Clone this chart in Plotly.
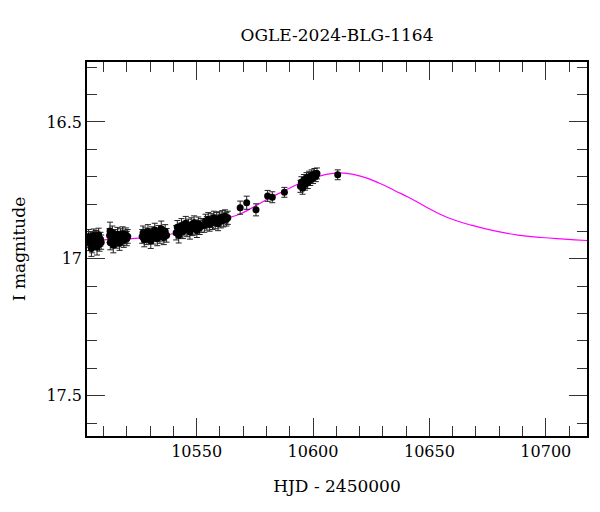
import plotly.graph_objects as go

# Observations: HJD-2450000, I magnitude, error
obs_t = [
    10503.3, 10503.6, 10504.2, 10504.5, 10505.1, 10505.4, 10505.8, 10506.3, 10506.6, 10507.2,
    10507.5, 10507.9, 10508.3, 10508.7, 10509.0, 10504.8, 10506.9,
    10512.6, 10512.9, 10513.3, 10513.8, 10514.2, 10514.6, 10515.1, 10515.5, 10516.0, 10516.4,
    10516.9, 10517.3, 10517.8, 10518.2, 10518.7, 10519.1, 10519.6, 10520.0, 10520.4, 10512.8,
    10526.6, 10527.0, 10527.5, 10528.0, 10528.6, 10529.1, 10529.7, 10530.3, 10530.8, 10531.4,
    10532.0, 10532.5, 10533.1, 10533.6, 10534.2, 10534.8, 10535.3, 10535.9, 10536.5, 10537.1,
    10541.2, 10541.7, 10542.3, 10542.9, 10543.5, 10544.1, 10544.7, 10545.3, 10545.9, 10546.5,
    10547.1, 10547.7, 10548.3, 10548.9, 10549.5, 10550.1, 10550.7, 10551.3, 10551.9,
    10553.3, 10553.8, 10554.4, 10555.0, 10555.6, 10556.2, 10556.8, 10557.4, 10558.0, 10558.6,
    10559.2, 10559.8, 10560.4, 10561.0, 10561.6, 10562.2, 10562.8, 10563.4,
    10568.7, 10571.5, 10575.5, 10580.5, 10582.5, 10587.7,
    10594.6, 10595.0, 10595.5, 10596.1, 10596.6, 10597.2, 10597.7, 10598.3, 10598.8, 10599.4,
    10600.0, 10600.6, 10601.2, 10601.7,
    10610.6,
]
obs_mag = [
    16.935, 16.918, 16.944, 16.926, 16.951, 16.930, 16.915, 16.940, 16.922, 16.958,
    16.933, 16.912, 16.946, 16.928, 16.939, 16.962, 16.920,
    16.915, 16.940, 16.925, 16.905, 16.950, 16.930, 16.918, 16.935, 16.910, 16.928,
    16.942, 16.915, 16.925, 16.908, 16.932, 16.920, 16.912, 16.926, 16.918, 16.898,
    16.918, 16.905, 16.930, 16.912, 16.922, 16.900, 16.915, 16.935, 16.908, 16.920,
    16.895, 16.912, 16.926, 16.903, 16.918, 16.890, 16.910, 16.922, 16.900, 16.914,
    16.905, 16.885, 16.915, 16.895, 16.878, 16.900, 16.888, 16.870, 16.893, 16.880,
    16.902, 16.875, 16.890, 16.868, 16.884, 16.896, 16.872, 16.886, 16.878,
    16.878, 16.862, 16.870, 16.855, 16.874, 16.860, 16.868, 16.850, 16.865, 16.856,
    16.872, 16.852, 16.862, 16.848, 16.858, 16.845, 16.855, 16.850,
    16.813, 16.795, 16.821, 16.770, 16.775, 16.757,
    16.735, 16.720, 16.742, 16.712, 16.728, 16.705, 16.722, 16.700, 16.712, 16.695,
    16.705, 16.690, 16.698, 16.688,
    16.693,
]
obs_err = [
    0.024, 0.025, 0.026, 0.024, 0.027, 0.025, 0.024, 0.026, 0.025, 0.028,
    0.025, 0.024, 0.026, 0.025, 0.026, 0.029, 0.024,
    0.026, 0.027, 0.025, 0.025, 0.028, 0.026, 0.025, 0.026, 0.025, 0.026,
    0.027, 0.025, 0.026, 0.025, 0.026, 0.025, 0.025, 0.026, 0.025, 0.032,
    0.025, 0.025, 0.026, 0.025, 0.026, 0.025, 0.025, 0.027, 0.025, 0.026,
    0.025, 0.025, 0.026, 0.025, 0.025, 0.028, 0.025, 0.026, 0.025, 0.025,
    0.026, 0.025, 0.027, 0.025, 0.025, 0.026, 0.025, 0.025, 0.026, 0.025,
    0.026, 0.025, 0.025, 0.025, 0.026, 0.026, 0.025, 0.025, 0.025,
    0.025, 0.025, 0.025, 0.024, 0.025, 0.025, 0.025, 0.024, 0.025, 0.025,
    0.025, 0.024, 0.025, 0.024, 0.025, 0.024, 0.025, 0.024,
    0.024, 0.024, 0.022, 0.020, 0.020, 0.018,
    0.022, 0.020, 0.022, 0.020, 0.021, 0.020, 0.021, 0.020, 0.020, 0.020,
    0.020, 0.020, 0.020, 0.020,
    0.018,
]

# Model curve sampled from the plot
model_t = [10502.9, 10515, 10525, 10535, 10545, 10555, 10562, 10568.7, 10575, 10582,
           10587.6, 10594.4, 10603, 10611.5, 10620, 10628.6, 10635.4, 10641, 10648,
           10654.3, 10661, 10668, 10678, 10688, 10698, 10708, 10717.7]
model_mag = [16.932, 16.929, 16.924, 16.915, 16.900, 16.877, 16.855, 16.836, 16.808, 16.775,
             16.752, 16.724, 16.697, 16.686, 16.697, 16.724, 16.752, 16.775, 16.808,
             16.836, 16.859, 16.877, 16.898, 16.913, 16.922, 16.928, 16.933]

title_text = "OGLE-2024-BLG-1164"
x_label = "HJD - 2450000"
y_label = "I magnitude"

FONT = "DejaVu Serif"

fig = go.Figure()
fig.add_trace(go.Scatter(
    x=model_t, y=model_mag, mode="lines",
    line=dict(color="#ff00ff", width=1.2, shape="spline", smoothing=1.3),
    hoverinfo="skip", showlegend=False,
))
fig.add_trace(go.Scatter(
    x=obs_t, y=obs_mag, mode="markers",
    marker=dict(color="black", size=7),
    error_y=dict(type="data", array=obs_err, visible=True, color="#222222",
                 thickness=1, width=3),
    showlegend=False,
))

axis_common = dict(
    showline=True, linecolor="black", linewidth=1.5, mirror="allticks",
    ticks="inside", ticklen=18, tickwidth=1, tickcolor="#333333",
    showgrid=False, zeroline=False,
    tickfont=dict(family=FONT, size=16, color="black"),
)

fig.update_layout(
    width=600, height=512,
    margin=dict(l=79, r=21, t=54, b=84),
    paper_bgcolor="white", plot_bgcolor="white",
    title=dict(text=title_text, x=(79 + 579) / 2 / 600, xanchor="center",
               y=1 - 27 / 512, yanchor="middle",
               font=dict(family=FONT, size=17, color="black")),
    xaxis=dict(
        range=[10502.9, 10717.7], tick0=10550, dtick=50, tickformat="d",
        minor=dict(dtick=10, tick0=10500, ticks="inside", ticklen=10, tickcolor="#333333", tickwidth=1),
        title=dict(text=x_label, font=dict(family=FONT, size=17, color="black"), standoff=20),
        **axis_common,
    ),
    yaxis=dict(
        range=[17.647, 16.281], tick0=16.5, dtick=0.5,
        minor=dict(dtick=0.1, tick0=16.5, ticks="inside", ticklen=10, tickcolor="#333333", tickwidth=1),
        title=dict(text=y_label, font=dict(family=FONT, size=17, color="black"), standoff=16),
        **axis_common,
    ),
)

fig.write_html("out.html")
